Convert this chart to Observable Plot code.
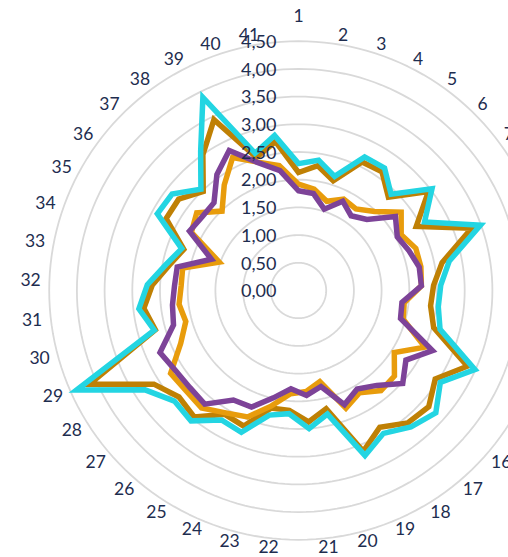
<!DOCTYPE html>
<html>
<head>
<meta charset="utf-8">
<script src="https://cdn.jsdelivr.net/npm/d3@7"></script>
<script src="https://cdn.jsdelivr.net/npm/@observablehq/plot@0.6"></script>
<style>
  html, body { margin: 0; padding: 0; background: #fff; overflow: hidden; }
  #chart svg { display: block; }
</style>
</head>
<body>
<div id="chart"></div>
<script>
// ---- data ----
const categories = ["1","2","3","4","5","6","7","8","9","10","11","12","13","14","15","16","17","18","19","20","21","22","23","24","25","26","27","28","29","30","31","32","33","34","35","36","37","38","39","40","41"];

const seriesOrange = [1.92,1.85,1.69,1.84,1.80,1.98,2.33,2.11,2.25,2.25,2.22,1.92,1.96,2.50,2.06,2.32,2.34,2.15,2.29,1.69,1.83,1.87,2.14,2.46,2.57,2.75,2.72,2.75,2.33,2.11,2.17,2.12,2.13,1.52,2.20,2.31,1.99,2.33,2.68,2.43,2.28];
const seriesBrown  = [2.13,2.28,2.08,2.59,2.62,2.34,2.95,2.42,3.32,2.64,2.44,2.40,2.53,3.34,2.94,3.15,3.10,2.87,3.13,2.19,2.38,2.17,2.18,2.64,2.60,2.96,2.89,3.11,4.14,2.68,2.81,2.64,2.38,2.20,2.72,2.72,2.48,3.00,3.44,2.52,2.72];
const seriesCyan   = [2.29,2.38,2.16,2.69,2.70,2.41,3.03,2.59,3.49,2.77,2.57,2.54,2.65,3.49,3.05,3.32,3.19,3.00,3.21,2.29,2.50,2.23,2.31,2.76,2.72,3.05,3.00,3.30,4.39,2.70,2.90,2.73,2.44,2.24,2.90,2.87,2.54,3.07,3.89,2.60,2.83];
const seriesPurple = [1.80,1.77,1.54,1.80,1.65,1.78,2.20,2.03,2.12,2.22,2.22,1.88,1.91,2.65,2.31,2.52,2.22,2.07,2.22,1.78,1.90,1.78,1.99,2.27,2.30,2.66,2.63,2.65,2.74,2.34,2.29,2.24,2.23,1.67,2.24,2.19,2.20,2.56,2.82,2.42,2.19];

const tickValues = [0, 0.5, 1, 1.5, 2, 2.5, 3, 3.5, 4, 4.5];
const tickLabels = ["0,00","0,50","1,00","1,50","2,00","2,50","3,00","3,50","4,00","4,50"];

// ---- geometry helpers ----
const W = 508, H = 557;
const CX = 298, CY = 290, U = 55.4;   // center (px) and px per unit
const n = categories.length;
const ang = i => i * 2 * Math.PI / n;  // clockwise from top

function rows(values, name) {
  return values.map((v, i) => ({series: name, cat: categories[i], v, a: ang(i)}));
}
const X = d => d.v * Math.sin(d.a);
const Y = d => d.v * Math.cos(d.a);

const ringRows = [];
tickValues.filter(t => t > 0).forEach(t => {
  for (let j = 0; j < 180; j++) ringRows.push({r: t, v: t, a: j * 2 * Math.PI / 180});
});

const labelR = 258 / U;
const catRows = categories.map((c, i) => ({cat: c, v: i === 0 ? 274 / U : labelR, a: ang(i), s: Math.sin(ang(i))}));

const lineOpts = (color) => ({x: X, y: Y, curve: "linear-closed", stroke: color, strokeWidth: 5.5, strokeLinejoin: "miter", strokeMiterlimit: 6});
const textColor = "#1e2d4f";

const chart = Plot.plot({
  width: W, height: H, margin: 0,
  x: {domain: [-CX / U, (W - CX) / U], axis: null},
  y: {domain: [-(H - CY) / U, CY / U], axis: null},
  style: {background: "#fff", fontFamily: "Lato, 'Open Sans', sans-serif"},
  marks: [
    Plot.line(ringRows, {x: X, y: Y, z: "r", curve: "linear-closed", stroke: "#d9d9d9", strokeWidth: 1.8}),
    Plot.line(rows(seriesBrown, "Serie 2"), lineOpts("#bf8004")),
    Plot.line(rows(seriesCyan, "Serie 3"), lineOpts("#23d5e2")),
    Plot.line(rows(seriesOrange, "Serie 1"), lineOpts("#e89c0c")),
    Plot.line(rows(seriesPurple, "Serie 4"), lineOpts("#7d4398")),
    Plot.text(tickValues.map((t, i) => ({t, label: tickLabels[i]})), {x: () => 0, y: d => d.t, text: "label", textAnchor: "end", dx: -22, dy: 1, fontSize: 18, fill: textColor}),
    Plot.text(catRows.filter((d, i) => i === 0), {x: X, y: Y, text: "cat", textAnchor: "middle", fontSize: 17.5, fill: textColor}),
    Plot.text(catRows.filter((d, i) => i > 0 && d.s > 0), {x: X, y: Y, text: "cat", textAnchor: "start", fontSize: 17.5, fill: textColor}),
    Plot.text(catRows.filter((d, i) => i > 0 && d.s < 0), {x: X, y: Y, text: "cat", textAnchor: "end", fontSize: 17.5, fill: textColor})
  ]
});
document.getElementById("chart").appendChild(chart);
</script>
</body>
</html>
